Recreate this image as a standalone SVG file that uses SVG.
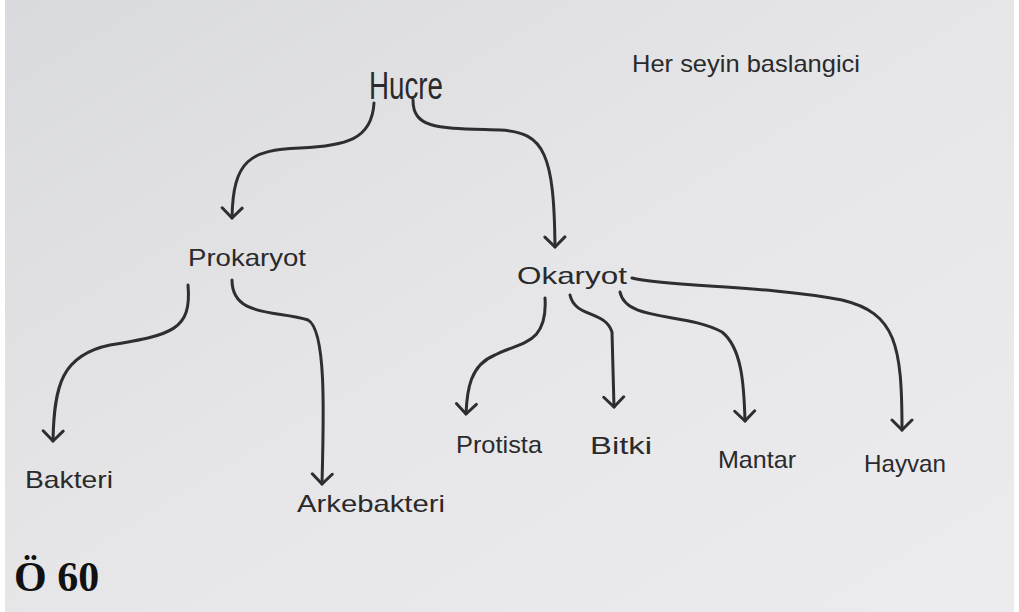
<svg xmlns="http://www.w3.org/2000/svg" width="1019" height="612" viewBox="0 0 1019 612">
<defs>
<linearGradient id="bg" x1="0" y1="0" x2="1" y2="1">
<stop offset="0" stop-color="#d9dadd"/>
<stop offset="0.5" stop-color="#e6e6e8"/>
<stop offset="1" stop-color="#ececee"/>
</linearGradient>
<marker id="arr" viewBox="0 0 16 24" refX="13" refY="12" markerWidth="16" markerHeight="24" markerUnits="userSpaceOnUse" orient="auto">
<path d="M3,2 Q8,7 13,12 Q8,17 3,22" fill="none" stroke="#2e2e30" stroke-width="3" stroke-linecap="round" stroke-linejoin="round"/>
</marker>
<style>
.lbl{font-family:"Liberation Sans",Arial,sans-serif;fill:#2a2a2c;}
.con path{fill:none;stroke:#2e2e30;stroke-width:3;stroke-linecap:round;marker-end:url(#arr);}
</style>
</defs>
<rect x="0" y="0" width="1019" height="612" fill="#ffffff"/>
<rect x="5" y="0" width="1009" height="612" fill="url(#bg)"/>
<g class="con" id="connectors">
<path d="M374,103 C372,140 345,146 300,148 C250,150 233,160 232,218"/>
<path d="M413,100 C413,130 440,128 500,130 C545,132 554,155 555,247"/>
<path d="M188,285 C192,330 172,335 110,345 C62,355 54,385 53,441"/>
<path d="M232,280 C232,318 278,310 308,320 C326,330 324,410 322,484"/>
<path d="M545,298 C548,345 520,342 495,355 C470,365 467,390 466,414"/>
<path d="M570,295 C575,318 605,310 612,332 L614,407"/>
<path d="M620,292 C626,322 685,312 722,332 C742,348 744,385 745,421"/>
<path d="M632,278 C665,287 765,285 842,300 C896,313 902,345 902,430"/>
</g>
<g id="hucre"><text class="lbl" x="369" y="99" font-size="38" textLength="74" lengthAdjust="spacingAndGlyphs">Hucre</text></g>
<g id="note"><text class="lbl" x="632" y="72" font-size="24" textLength="228" lengthAdjust="spacingAndGlyphs">Her seyin baslangici</text></g>
<g id="prokaryot"><text class="lbl" x="188" y="266" font-size="24" textLength="118" lengthAdjust="spacingAndGlyphs">Prokaryot</text></g>
<g id="okaryot"><text class="lbl" x="517" y="284" font-size="24" textLength="110" lengthAdjust="spacingAndGlyphs">Okaryot</text></g>
<g id="bakteri"><text class="lbl" x="25" y="488" font-size="24" textLength="88" lengthAdjust="spacingAndGlyphs">Bakteri</text></g>
<g id="arkebakteri"><text class="lbl" x="297" y="512" font-size="24" textLength="148" lengthAdjust="spacingAndGlyphs">Arkebakteri</text></g>
<g id="protista"><text class="lbl" x="456" y="453" font-size="24" textLength="86" lengthAdjust="spacingAndGlyphs">Protista</text></g>
<g id="bitki"><text class="lbl" x="590" y="454" font-size="24" textLength="62" lengthAdjust="spacingAndGlyphs">Bitki</text></g>
<g id="mantar"><text class="lbl" x="718" y="468" font-size="24" textLength="78" lengthAdjust="spacingAndGlyphs">Mantar</text></g>
<g id="hayvan"><text class="lbl" x="864" y="472" font-size="24" textLength="82" lengthAdjust="spacingAndGlyphs">Hayvan</text></g>
<g id="label"><text x="14" y="591" font-family="Liberation Serif,Times New Roman,serif" font-weight="bold" font-size="42" fill="#111">Ö 60</text></g>
</svg>
